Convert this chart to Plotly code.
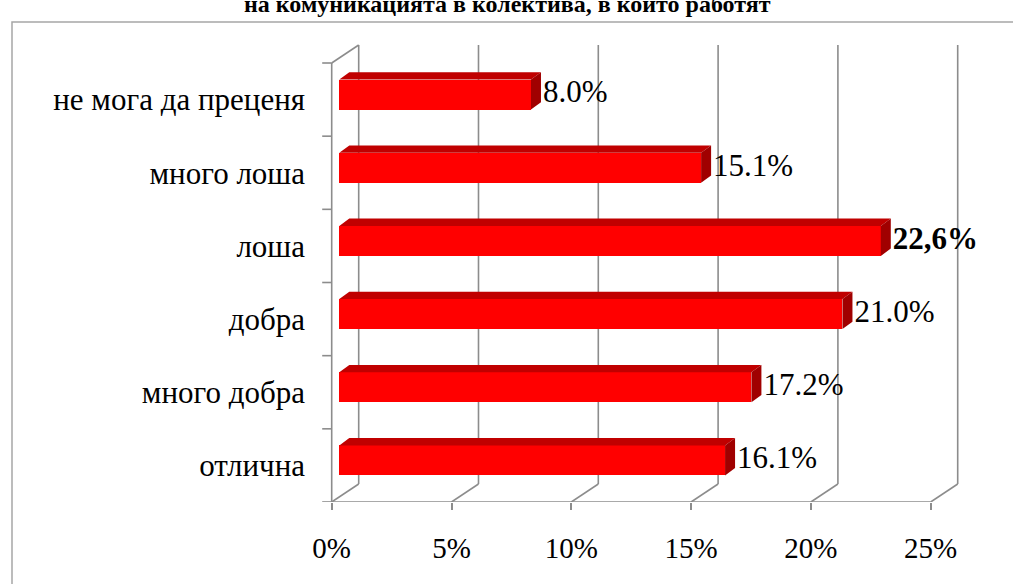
import plotly.graph_objects as go

# Survey answers (bottom to top) and their shares in percent
categories = ["отлична", "много добра", "добра", "лоша", "много лоша", "не мога да преценя"]
shares = [16.1, 17.2, 21.0, 22.6, 15.1, 8.0]
share_labels = ["16.1%", "17.2%", "21.0%", "<b>22,6%</b>", "15.1%", "8.0%"]
x_ticks = [0, 5, 10, 15, 20, 25]
x_tick_labels = ["0%", "5%", "10%", "15%", "20%", "25%"]
title_text = "на комуникацията в колектива, в които работят"

FONT = "Times New Roman, Liberation Serif, DejaVu Serif, serif"

W, H = 1013, 584
L, R, T, B = 320, 965, 40, 502          # plot area in pixels
SX = 599 / 25                            # pixels per percent on the front plane
SY = 439 / 6                             # pixels per category band

X0 = -(331.7 - L) / SX
X1 = X0 + (R - L) / SX
Y0 = -0.5
Y1 = Y0 + (B - T) / SY


def dx(px):
    return px / SX


def dy(px):
    return px / SY


def paper_x(px):
    return (px - L) / (R - L)


def paper_y(py):
    return (B - py) / (B - T)


# pseudo-3D depth of the box walls and of the bars
DX, DY = dx(27), dy(18)
BX, BY = dx(7.6), dy(5)
BDX, BDY = dx(10), dy(7.3)
HALF = dy(15)

GRID = "#8c8c8c"
shapes = []


def line(x0, y0, x1, y1, **kw):
    shapes.append(dict(type="line", xref="x", yref="y", x0=x0, y0=y0, x1=x1, y1=y1,
                       line=dict(color=GRID, width=1.6), layer="below", **kw))


# back wall gridlines and floor diagonals
for v in x_ticks:
    line(v + DX, Y0 + DY, v + DX, 5.5 + DY)
    line(v, Y0, v + DX, Y0 + DY)
# left wall
line(0, Y0, 0, 5.5)
line(0, 5.5, DX, 5.5 + DY)
# floor front edge
line(0, Y0, 25, Y0)
# category tick marks on the left wall
for k in range(7):
    line(-dx(9.5), Y0 + k, 0, Y0 + k)

# outer frame
shapes.append(dict(type="rect", xref="paper", yref="paper",
                   x0=paper_x(12), y0=paper_y(22), x1=paper_x(1030), y1=paper_y(620),
                   line=dict(color="#a6a6a6", width=1.5), layer="below"))

ypos = list(range(len(categories)))
centers = [p + BY for p in ypos]

fig = go.Figure()

# front faces
fig.add_trace(go.Bar(
    orientation="h", y=centers, x=shares, base=BX, width=2 * HALF,
    marker=dict(color="#ff0000", line=dict(width=0)), hoverinfo="skip",
))

# top and side faces
top_x, top_y, side_x, side_y = [], [], [], []
for c, v in zip(centers, shares):
    x_end = BX + v
    top, bot = c + HALF, c - HALF
    top_x += [BX, x_end, x_end + BDX, BX + BDX, BX, None]
    top_y += [top, top, top + BDY, top + BDY, top, None]
    side_x += [x_end, x_end, x_end + BDX, x_end + BDX, x_end, None]
    side_y += [bot, top, top + BDY, bot + BDY, bot, None]

fig.add_trace(go.Scatter(x=top_x, y=top_y, mode="lines", fill="toself",
                         fillcolor="#c00000", line=dict(width=0), hoverinfo="skip"))
fig.add_trace(go.Scatter(x=side_x, y=side_y, mode="lines", fill="toself",
                         fillcolor="#a00000", line=dict(width=0), hoverinfo="skip"))

# value labels
fig.add_trace(go.Scatter(
    x=[BX + v + BDX + dx(2) for v in shares], y=centers, mode="text",
    text=share_labels, textposition="middle right",
    textfont=dict(family=FONT, size=31, color="#000000"),
    hoverinfo="skip", cliponaxis=False,
))

fig.add_annotation(
    xref="paper", yref="paper", x=paper_x(507), y=paper_y(19),
    xanchor="center", yanchor="bottom", showarrow=False, text="<b>" + title_text + "</b>",
    font=dict(family=FONT, size=24, color="#000000"),
)

fig.update_layout(
    width=W, height=H,
    margin=dict(l=L, r=W - R, t=T, b=H - B),
    paper_bgcolor="#ffffff", plot_bgcolor="rgba(0,0,0,0)",
    showlegend=False, shapes=shapes, bargap=0,
)
fig.update_xaxes(
    range=[X0, X1], tickvals=x_ticks, ticktext=x_tick_labels,
    showgrid=False, zeroline=False, showline=False,
    ticks="outside", ticklen=7, tickwidth=1.6, tickcolor=GRID,
    ticklabelstandoff=13,
    tickfont=dict(family=FONT, size=29, color="#000000"),
)
fig.update_yaxes(
    range=[Y0, Y1], tickvals=ypos, ticktext=categories,
    showgrid=False, zeroline=False, showline=False, ticks="",
    ticklabelstandoff=14,
    tickfont=dict(family=FONT, size=31, color="#000000"),
)

fig.write_html("out.html")
